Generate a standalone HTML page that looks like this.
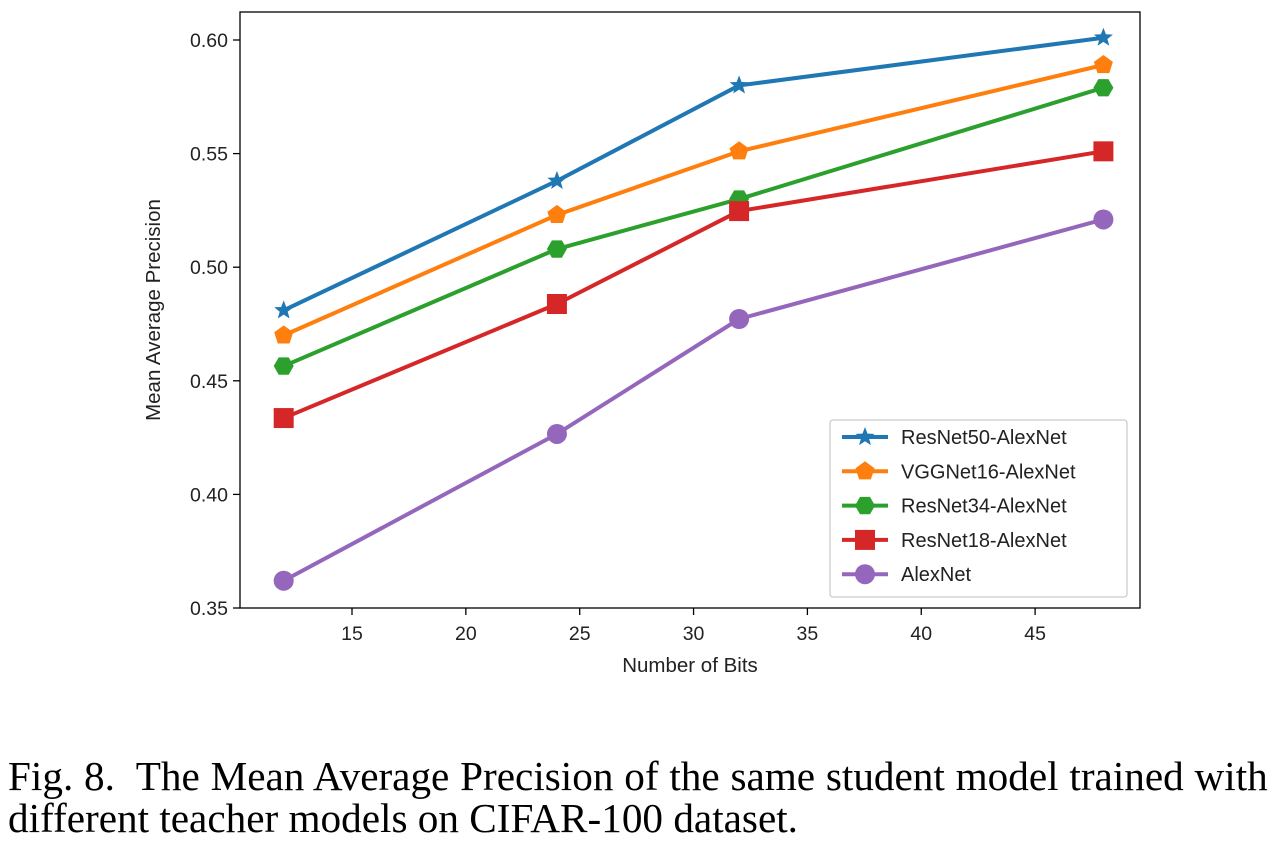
<!DOCTYPE html>
<html><head><meta charset="utf-8"><style>
body{margin:0;background:#fff;width:1280px;height:851px;overflow:hidden;position:relative}
svg{position:absolute;left:0;top:0}
.cap{position:absolute;left:8px;top:755px;font-family:"Liberation Serif",serif;font-size:41.2px;line-height:42px;color:#000;white-space:nowrap}
.l1{word-spacing:0.5px}
</style></head><body>
<svg width="1280" height="851" id="chart" font-family="'Liberation Sans', sans-serif"></svg>
<div class="cap"><span class="l1">Fig. 8.&nbsp; The Mean Average Precision of the same student model trained with</span><br>different teacher models on CIFAR-100 dataset.</div>
<script>
const bits = [12, 24, 32, 48];
const resnet50 = [0.481, 0.538, 0.580, 0.601];
const vgg16 = [0.470, 0.523, 0.551, 0.589];
const resnet34 = [0.4565, 0.508, 0.530, 0.579];
const resnet18 = [0.4336, 0.4838, 0.5247, 0.551];
const alexnet = [0.362, 0.4266, 0.4772, 0.521];
const seriesNames = ["ResNet50-AlexNet","VGGNet16-AlexNet","ResNet34-AlexNet","ResNet18-AlexNet","AlexNet"];
const xTicks = [15,20,25,30,35,40,45];
const yTicks = [0.35,0.40,0.45,0.50,0.55,0.60];

const NS="http://www.w3.org/2000/svg";
const svg=document.getElementById('chart');
const L=240,R=1140,T=12,B=608;
const xs=v=>352+(v-15)*22.77;
const ys=v=>608-(v-0.35)*2272;
function el(t,a,p){const e=document.createElementNS(NS,t);for(const k in a)e.setAttribute(k,a[k]);(p||svg).appendChild(e);return e;}
const frame=el('rect',{x:L,y:T,width:R-L,height:B-T,fill:'none',stroke:'#000','stroke-width':1.3});


xTicks.forEach(v=>{const x=xs(v);
 const t=el('line',{x1:x,x2:x,y1:B,y2:B+7,stroke:'#000','stroke-width':1.3});
 
 
 const l=el('text',{x:x,y:B+32,'text-anchor':'middle','font-size':19.5,fill:'#222'});l.textContent=v;
 
 });
yTicks.forEach(v=>{const y=ys(v);
 const t=el('line',{x1:L-7,x2:L,y1:y,y2:y,stroke:'#000','stroke-width':1.3});
 
 
 const l=el('text',{x:L-12,y:y+7,'text-anchor':'end','font-size':19.5,fill:'#222'});l.textContent=v.toFixed(2);
 
 });
const xt=el('text',{x:690,y:672,'text-anchor':'middle','font-size':20.5,fill:'#222'});xt.textContent='Number of Bits';


const yt=el('text',{x:0,y:0,'text-anchor':'middle','font-size':20.5,fill:'#222',transform:'translate(160,310) rotate(-90)'});yt.textContent='Mean Average Precision';



const colors=['#1f77b4','#ff7f0e','#2ca02c','#d62728','#9467bd'];
const markers=['star','pent','hex','sq','circ'];
function marker(type,cx,cy,c,g){
 let e;
 if(type==='circ')e=el('circle',{cx,cy,r:10,fill:c},g);
 else if(type==='sq')e=el('rect',{x:cx-10,y:cy-10,width:20,height:20,fill:c},g);
 else{let pts=[],n=type==='star'?10:(type==='pent'?5:6),r1=10;
  for(let i=0;i<n;i++){const a=-Math.PI/2+i*2*Math.PI/n+(type==='hex'?Math.PI/6:0);const r=type==='star'&&i%2?4.2:r1;pts.push((cx+r*Math.cos(a)).toFixed(1)+','+(cy+r*Math.sin(a)).toFixed(1));}
  e=el('polygon',{points:pts.join(' '),fill:c},g);}
 return e;}
[resnet50,vgg16,resnet34,resnet18,alexnet].forEach((s,i)=>{
 const g=el('g',{});
 
 
 const p=el('polyline',{points:s.map((v,j)=>xs(bits[j])+','+ys(v)).join(' '),fill:'none',stroke:colors[i],'stroke-width':4,'stroke-linejoin':'round'},g);
 
 
 s.forEach((v,j)=>{const m=marker(markers[i],xs(bits[j]),ys(v),colors[i],g);
  
  });
});
const lg=el('g',{});


el('rect',{x:830,y:420,width:297,height:177,rx:3,fill:'#fff','fill-opacity':0.85,stroke:'#ccc','stroke-width':1.3},lg);
seriesNames.forEach((n,i)=>{const y=437+i*34.3;
 const g=el('g',{},lg);
 
 
 el('line',{x1:842,x2:888,y1:y,y2:y,stroke:colors[i],'stroke-width':4},g);
 marker(markers[i],865,y,colors[i],g);
 const t=el('text',{x:901,y:y+7,'font-size':20,fill:'#222'},g);t.textContent=n;});
</script>
</body></html>
